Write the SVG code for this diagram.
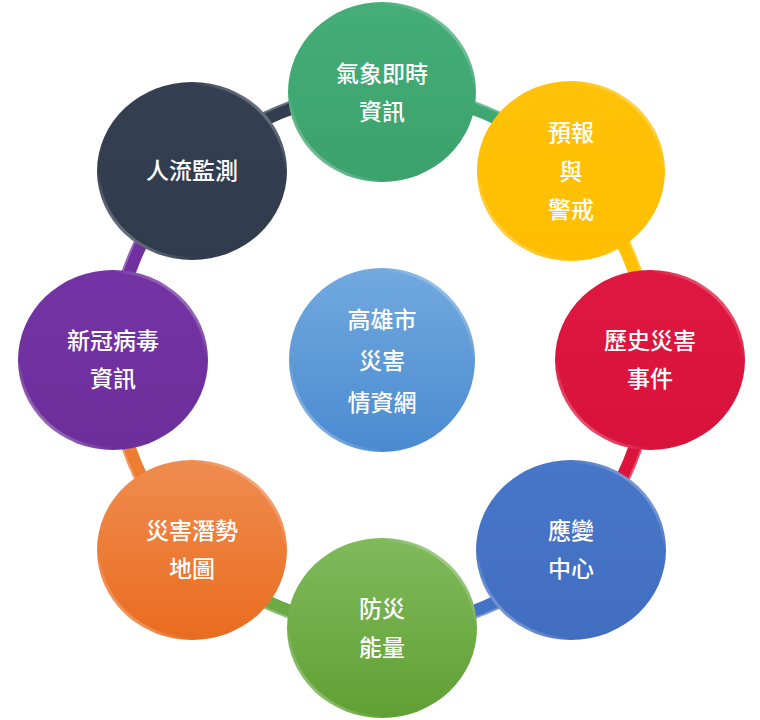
<svg xmlns="http://www.w3.org/2000/svg" width="760" height="720" viewBox="0 0 760 720">
<defs>
  <linearGradient id="gGreen" x1="0" y1="0" x2="0" y2="1"><stop offset="0" stop-color="#45AD77"/><stop offset="1" stop-color="#3BA26C"/></linearGradient>
  <linearGradient id="gNavy" x1="0" y1="0" x2="0" y2="1"><stop offset="0" stop-color="#343F52"/><stop offset="1" stop-color="#303B4D"/></linearGradient>
  <linearGradient id="gYellow" x1="0" y1="0" x2="0" y2="1"><stop offset="0" stop-color="#FFC208"/><stop offset="1" stop-color="#FFBE00"/></linearGradient>
  <linearGradient id="gRed" x1="0" y1="0" x2="0" y2="1"><stop offset="0" stop-color="#DE1840"/><stop offset="1" stop-color="#D8123A"/></linearGradient>
  <linearGradient id="gBlue" x1="0" y1="0" x2="0" y2="1"><stop offset="0" stop-color="#4876C8"/><stop offset="1" stop-color="#416EC0"/></linearGradient>
  <linearGradient id="gLGreen" x1="0" y1="0" x2="0" y2="1"><stop offset="0" stop-color="#80BA5C"/><stop offset="1" stop-color="#5FA033"/></linearGradient>
  <linearGradient id="gOrange" x1="0" y1="0" x2="0" y2="1"><stop offset="0" stop-color="#F08C50"/><stop offset="1" stop-color="#E96C1E"/></linearGradient>
  <linearGradient id="gPurple" x1="0" y1="0" x2="0" y2="1"><stop offset="0" stop-color="#7433A4"/><stop offset="1" stop-color="#6D2F9C"/></linearGradient>
  <linearGradient id="gCenter" x1="0" y1="0" x2="0" y2="1"><stop offset="0" stop-color="#72AADF"/><stop offset="1" stop-color="#4A8AD0"/></linearGradient>
  <linearGradient id="rim" x1="1" y1="0" x2="0" y2="1">
    <stop offset="0" stop-color="#ffffff" stop-opacity="0.6"/>
    <stop offset="0.25" stop-color="#ffffff" stop-opacity="0"/>
    <stop offset="0.75" stop-color="#ffffff" stop-opacity="0"/>
    <stop offset="1" stop-color="#ffffff" stop-opacity="0.6"/>
  </linearGradient>
</defs>
<style>
  .seg { fill: none; stroke-width: 14; stroke-linecap: butt; }
  .segHi { fill: none; stroke: #ffffff; stroke-opacity: 0.25; stroke-width: 2; }
  .rim { fill: none; stroke: url(#rim); stroke-width: 3; }
  .lbl { font-family: "Noto Sans CJK TC", "Noto Sans CJK SC", "Noto Sans", sans-serif; font-size: 23px; font-weight: 500; fill: #ffffff; text-anchor: middle; dominant-baseline: central; }
</style>

<g id="connectors">
  <path class="seg" stroke="#3FA771" d="M382 92 A268 268 0 0 1 571.5 170.5"/>
  <path class="seg" stroke="#FFC000" d="M571.5 170.5 A268 268 0 0 1 650 360"/>
  <path class="seg" stroke="#DC143C" d="M650 360 A268 268 0 0 1 571.5 549.5"/>
  <path class="seg" stroke="#4472C4" d="M571.5 549.5 A268 268 0 0 1 382 628"/>
  <path class="seg" stroke="#6CAA45" d="M382 628 A268 268 0 0 1 192.5 549.5"/>
  <path class="seg" stroke="#ED7D31" d="M192.5 549.5 A268 268 0 0 1 114 360"/>
  <path class="seg" stroke="#7030A0" d="M114 360 A268 268 0 0 1 192.5 170.5"/>
  <path class="seg" stroke="#323E50" d="M192.5 170.5 A268 268 0 0 1 382 92"/>
  <circle class="segHi" cx="382" cy="360" r="274"/>
</g>

<g id="node-weather">
  <ellipse cx="382" cy="92" rx="94" ry="90" fill="url(#gGreen)"/>
  <ellipse class="rim" cx="382" cy="92" rx="92.5" ry="88.5"/>
  <text class="lbl" x="382" y="72">氣象即時</text>
  <text class="lbl" x="382" y="110">資訊</text>
</g>

<g id="node-warning">
  <ellipse cx="571" cy="171" rx="94" ry="90" fill="url(#gYellow)"/>
  <ellipse class="rim" cx="571" cy="171" rx="92.5" ry="88.5"/>
  <text class="lbl" x="571" y="131">預報</text>
  <text class="lbl" x="571" y="170">與</text>
  <text class="lbl" x="571" y="208">警戒</text>
</g>

<g id="node-history">
  <ellipse cx="650" cy="360" rx="95" ry="90" fill="url(#gRed)"/>
  <ellipse class="rim" cx="650" cy="360" rx="93.5" ry="88.5"/>
  <text class="lbl" x="650" y="339">歷史災害</text>
  <text class="lbl" x="650" y="377">事件</text>
</g>

<g id="node-response">
  <ellipse cx="571" cy="550" rx="95" ry="90" fill="url(#gBlue)"/>
  <ellipse class="rim" cx="571" cy="550" rx="93.5" ry="88.5"/>
  <text class="lbl" x="571" y="529">應變</text>
  <text class="lbl" x="571" y="567">中心</text>
</g>

<g id="node-energy">
  <ellipse cx="382" cy="628" rx="95" ry="90" fill="url(#gLGreen)"/>
  <ellipse class="rim" cx="382" cy="628" rx="93.5" ry="88.5"/>
  <text class="lbl" x="382" y="607">防災</text>
  <text class="lbl" x="382" y="646">能量</text>
</g>

<g id="node-potential">
  <ellipse cx="192" cy="550" rx="95" ry="90" fill="url(#gOrange)"/>
  <ellipse class="rim" cx="192" cy="550" rx="93.5" ry="88.5"/>
  <text class="lbl" x="192" y="529">災害潛勢</text>
  <text class="lbl" x="192" y="567">地圖</text>
</g>

<g id="node-covid">
  <ellipse cx="113" cy="360" rx="95" ry="90" fill="url(#gPurple)"/>
  <ellipse class="rim" cx="113" cy="360" rx="93.5" ry="88.5"/>
  <text class="lbl" x="113" y="339">新冠病毒</text>
  <text class="lbl" x="113" y="377">資訊</text>
</g>

<g id="node-crowd">
  <ellipse cx="192" cy="171" rx="95" ry="89" fill="url(#gNavy)"/>
  <ellipse class="rim" cx="192" cy="171" rx="93.5" ry="87.5"/>
  <text class="lbl" x="192" y="169">人流監測</text>
</g>

<g id="node-center">
  <ellipse cx="382" cy="360" rx="93" ry="92" fill="url(#gCenter)"/>
  <ellipse class="rim" cx="382" cy="360" rx="91.5" ry="90.5"/>
  <text class="lbl" x="382" y="318">高雄市</text>
  <text class="lbl" x="382" y="359">災害</text>
  <text class="lbl" x="382" y="401">情資網</text>
</g>
</svg>
